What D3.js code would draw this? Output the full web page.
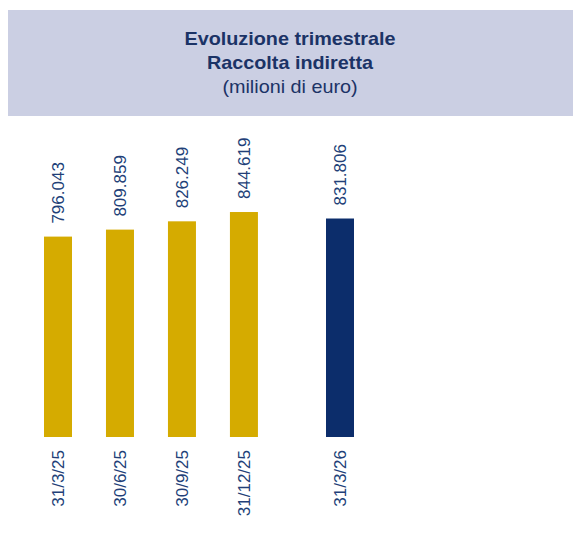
<!DOCTYPE html>
<html>
<head>
<meta charset="utf-8">
<script src="https://cdn.jsdelivr.net/npm/d3@7"></script>
<style>
  body { margin: 0; background: #fff; }
  text { font-family: "Liberation Sans", Arial, sans-serif; }
</style>
</head>
<body>
<div id="chart"></div>
<script>
// data
const categories = ['31/3/25', '30/6/25', '30/9/25', '31/12/25', '31/3/26'];
const values = [796.043, 809.859, 826.249, 844.619, 831.806];
const labels = ['796.043', '809.859', '826.249', '844.619', '831.806'];
const titleLines = ['Evoluzione trimestrale', 'Raccolta indiretta', '(milioni di euro)'];

const width = 573;
const height = 533;

const svg = d3
  .select('#chart')
  .append('svg')
  .attr('width', width)
  .attr('height', height);

// header band
svg
  .append('rect')
  .attr('x', 8)
  .attr('y', 10)
  .attr('width', width - 8)
  .attr('height', 106)
  .attr('fill', '#cbcfe3');

// title text is a little wider than the font, so stretch it horizontally
svg
  .selectAll('.title')
  .data(titleLines)
  .enter()
  .append('text')
  .attr('class', 'title')
  .attr('transform', (d, i) => 'translate(290,' + (45 + i * 24) + ') scale(1.1,1)')
  .attr('text-anchor', 'middle')
  .attr('font-size', '18px')
  .attr('font-weight', (d, i) => (i < 2 ? 'bold' : 'normal'))
  .attr('fill', '#1b3366')
  .text((d) => d);

// scales: last quarter sits a bit apart from the others
const slot = (i) => (i === categories.length - 1 ? i + 0.55 : i);
const xScale = d3.scaleLinear().domain([0, slot(categories.length - 1)]).range([58, 340]);
const yScale = d3.scaleLinear().domain([400, 900]).range([437, 184]);
const barWidth = 28;
const colorFor = (i) => (i === categories.length - 1 ? '#0c2d6b' : '#d5ab00');

const rows = categories.map((c, i) => ({ cat: c, value: values[i], label: labels[i], i }));

svg
  .selectAll('.bar')
  .data(rows)
  .enter()
  .append('rect')
  .attr('class', 'bar')
  .attr('x', (d) => xScale(slot(d.i)) - barWidth / 2)
  .attr('y', (d) => yScale(d.value))
  .attr('width', barWidth)
  .attr('height', (d) => yScale.range()[0] - yScale(d.value))
  .attr('fill', (d) => colorFor(d.i));

// value labels, rotated
svg
  .selectAll('.val')
  .data(rows)
  .enter()
  .append('text')
  .attr('class', 'val')
  .attr('transform', (d) => 'translate(' + xScale(slot(d.i)) + ',' + (yScale(d.value) - 13) + ') rotate(-90)')
  .attr('dy', '0.35em')
  .attr('text-anchor', 'start')
  .attr('font-size', '17px')
  .attr('fill', '#223f78')
  .text((d) => d.label);

// category labels, rotated
svg
  .selectAll('.cat')
  .data(rows)
  .enter()
  .append('text')
  .attr('class', 'cat')
  .attr('transform', (d) => 'translate(' + xScale(slot(d.i)) + ',' + (yScale.range()[0] + 13) + ') rotate(-90)')
  .attr('dy', '0.35em')
  .attr('text-anchor', 'end')
  .attr('font-size', '17px')
  .attr('fill', '#223f78')
  .text((d) => d.cat);
</script>
</body>
</html>
